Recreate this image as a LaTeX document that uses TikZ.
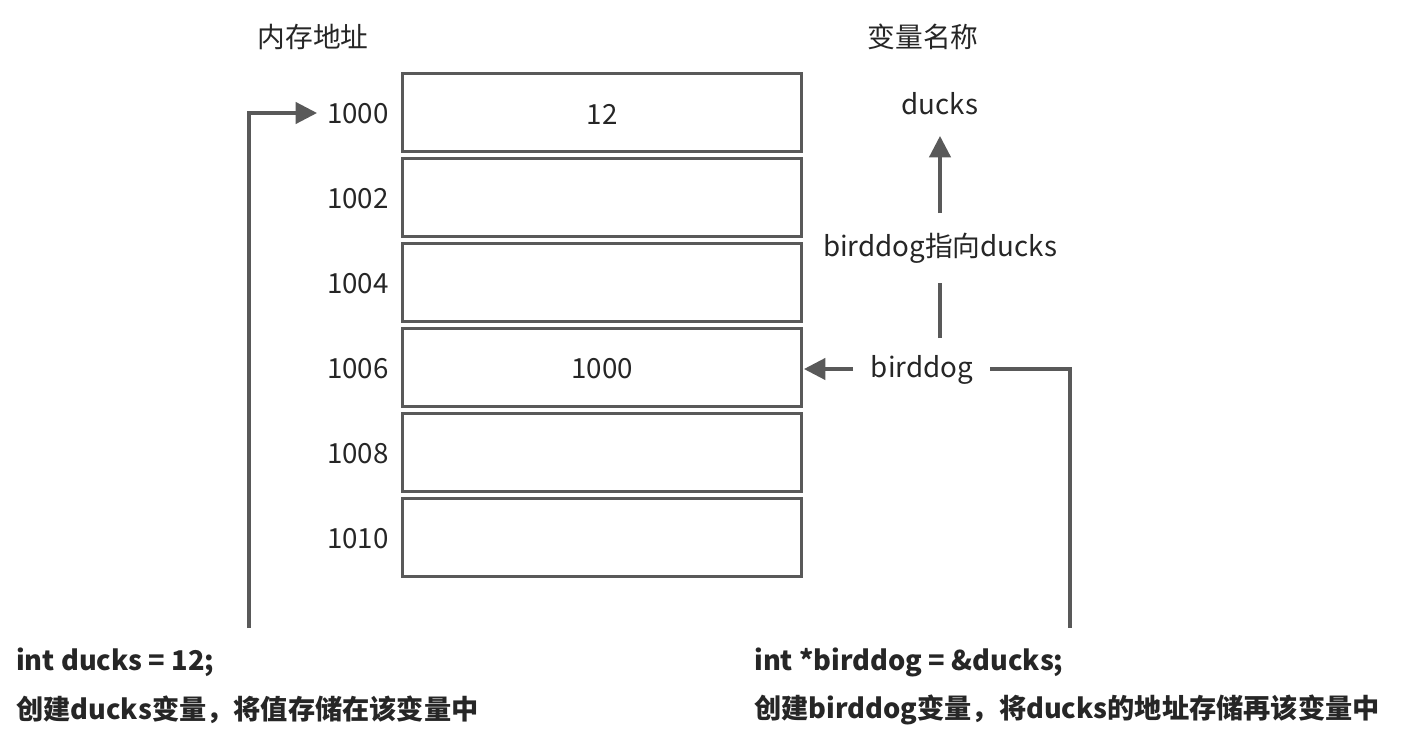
\documentclass[tikz,border=0pt]{standalone}
\usepackage{fontspec}
\setmainfont{Noto Sans CJK SC}
\usetikzlibrary{arrows.meta}
\definecolor{linec}{HTML}{595959}
\definecolor{txtc}{HTML}{262626}
\begin{document}
\begin{tikzpicture}[x=0.75pt,y=-0.75pt,
  every node/.style={text=txtc,font=\fontsize{20.8}{25}\selectfont,inner sep=0pt},
  cell/.style={draw=linec,line width=2.4pt},
  conn/.style={draw=linec,line width=2.4pt},
  arr/.style={conn,-{Triangle[length=16pt,width=16pt]}},
  bold/.style={font=\fontsize{20.4}{25}\selectfont\bfseries}]
\useasboundingbox (0,0) rectangle (1402,746);
% cells
\foreach \i/\t in {0/72,1/157,2/242,3/327,4/412,5/497}{
  \draw[cell] (402.5,\t+1.5) rectangle (801.5,\t+79.5);
}
\node (h1) at (313,37) {内存地址};
\node (h2) at (923,37) {变量名称};
\node[anchor=east] (a0) at (389,114) {1000};
\node[anchor=east] (a1) at (389,199) {1002};
\node[anchor=east] (a2) at (389,284) {1004};
\node[anchor=east] (a3) at (389,369) {1006};
\node[anchor=east] (a4) at (389,454) {1008};
\node[anchor=east] (a5) at (389,539) {1010};
\node (v0) at (602,114) {12};
\node (v3) at (602,369) {1000};
\node (ducks) at (940,104) {ducks};
\node (bd) at (922,370) {birddog};
\node (lbl) at (940,248) {birddog指向ducks};
\coordinate (cellR) at (804,369);
\coordinate (bdtop) at (940,338);
\coordinate (ducksb) at (940,136);
\coordinate (lblb) at (940,283);
\coordinate (lblt) at (940,213);
\draw[conn] (bdtop) -- (lblb);
\draw[arr] (lblt) -- (ducksb);
\draw[arr] (853,369) -- (cellR);
% bottom texts
\node[bold,anchor=west] (c1) at (16,662) {int ducks = 12;};
\node[bold,anchor=west] (c2) at (16,710) {创建ducks变量，将值存储在该变量中};
\node[bold,anchor=west] (c3) at (754,662) {int *birddog = \&ducks;};
\node[bold,anchor=west] (c4) at (754,710) {创建birddog变量，将ducks的地址存储再该变量中};
\coordinate (lb) at (249,628);
\coordinate (lt) at (249,113);
\coordinate (a0w) at (317,113);
\draw[arr] (lb) -- (lt) -- (a0w);
\coordinate (rs) at (990,369);
\coordinate (rc) at (1070,369);
\coordinate (rb) at (1070,628);
\draw[conn] (rs) -- (rc) -- (rb);
\end{tikzpicture}
\end{document}
